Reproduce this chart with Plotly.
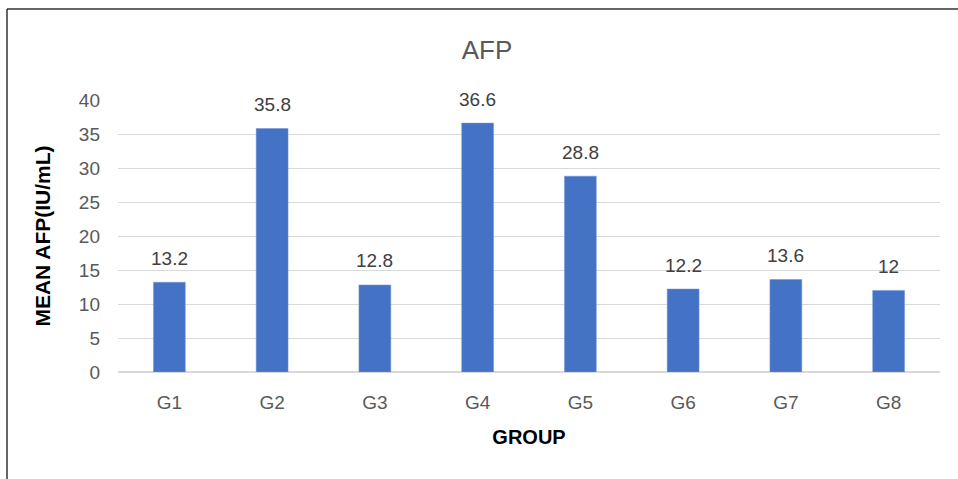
import plotly.graph_objects as go

groups = ["G1", "G2", "G3", "G4", "G5", "G6", "G7", "G8"]
mean_afp = [13.2, 35.8, 12.8, 36.6, 28.8, 12.2, 13.6, 12]
y_ticks = [0, 5, 10, 15, 20, 25, 30, 35, 40]

FONT = "Liberation Sans"

fig = go.Figure(
    go.Bar(
        x=groups,
        y=mean_afp,
        width=0.31,
        marker=dict(color="#4472C4", line=dict(color="#6f94d6", width=0.5)),
        hoverinfo="x+y",
    )
)

# value labels floating above each bar
for g, v in zip(groups, mean_afp):
    fig.add_annotation(
        x=g, y=v, text=f"{v:g}", showarrow=False,
        yanchor="middle", yshift=24,
        font=dict(family=FONT, size=19, color="#404040"),
    )

# plot-area coordinates of the outer frame (left and top edges visible)
L, R, T, B = 118, 18, 100, 107
W, H = 958 - L - R, 479 - T - B

def px_x(px):
    return (px - L) / W

def px_y(py):
    return (479 - B - py) / H

fig.add_shape(type="line", xref="paper", yref="paper",
              x0=px_x(7), x1=px_x(7), y0=px_y(9), y1=px_y(485),
              line=dict(color="#333333", width=1.5))
fig.add_shape(type="line", xref="paper", yref="paper",
              x0=px_x(7), x1=px_x(965), y0=px_y(9), y1=px_y(9),
              line=dict(color="#333333", width=1.5))

fig.update_layout(
    width=958,
    height=479,
    margin=dict(l=L, r=R, t=T, b=B),
    paper_bgcolor="white",
    plot_bgcolor="white",
    showlegend=False,
    title=dict(text="AFP", x=487 / 958, xanchor="center", y=1 - 50 / 479, yanchor="middle",
               font=dict(family=FONT, size=26, color="#595959")),
    xaxis=dict(
        title=dict(text="<b>GROUP</b>", font=dict(family=FONT, size=20, color="#000000"), standoff=17),
        tickfont=dict(family=FONT, size=19, color="#595959"),
        showgrid=False,
        showline=False,
        ticks="",
        ticklabelstandoff=17,
    ),
    yaxis=dict(
        title=dict(text="<b>MEAN AFP(IU/mL)</b>", font=dict(family=FONT, size=21, color="#000000"), standoff=22),
        range=[0, 40],
        tickvals=y_ticks,
        tickfont=dict(family=FONT, size=19, color="#595959"),
        showgrid=True,
        gridcolor="#d9d9d9",
        gridwidth=1.2,
        zeroline=True,
        zerolinecolor="#d9d9d9",
        zerolinewidth=1.6,
        ticks="",
        ticklabelstandoff=17,
    ),
)

fig.write_html("out.html")
